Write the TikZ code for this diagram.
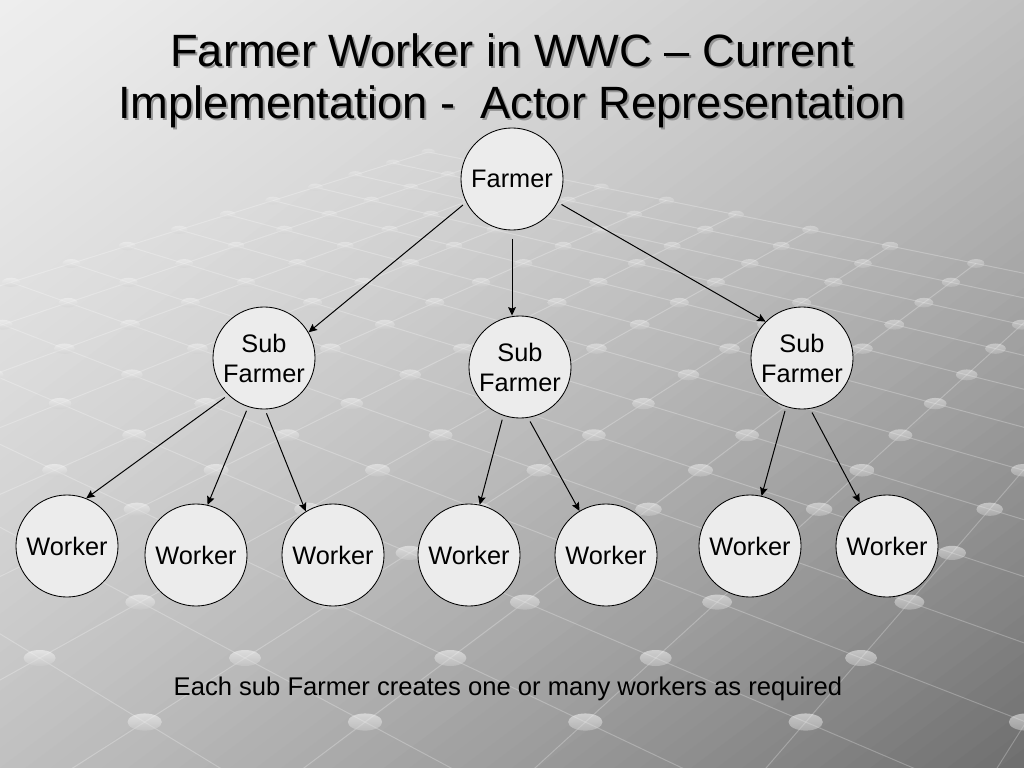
\documentclass[tikz,border=0pt]{standalone}
\usepackage{fontspec}
\setmainfont{Liberation Sans}
\usetikzlibrary{arrows.meta}
\definecolor{actorfill}{RGB}{236,236,236}
\definecolor{titleshade}{RGB}{150,150,150}

\begin{document}
\begin{tikzpicture}[
  x=0.025cm, y=-0.025cm,
  actor/.style={circle, draw=black, line width=0.6pt, fill=actorfill,
    minimum size=2.55cm, inner sep=0pt, align=center,
    font=\fontsize{18}{21.3}\selectfont},
  link/.style={-{Stealth[length=6pt, width=5.5pt, inset=1pt]}, line width=0.7pt, shorten <=3pt},
  gridline/.style={white, opacity=0.25, line width=0.7pt},
  titletext/.style={anchor=base, font=\fontsize{32.2}{38}\selectfont},
  declare function={
    gs(\a,\b)=1+0.068*(\a+\b);
    gx(\a,\b)=(-95.2*\a+110.16*\b+245)/gs(\a,\b);
    gy(\a,\b)=(-14.96*(\a+\b)+658)/gs(\a,\b);
    bgval(\t)=(238-56*\t-72*\t*\t)/255;
  },
]
  \useasboundingbox (0,0) rectangle (1024,768);

  \begin{scope}
    \clip (0,0) rectangle (1024,768);

    % Background (diagonal gradient, light top left to dark bottom right)
    \foreach \i in {0,...,79} {
      \pgfmathsetmacro{\ta}{\i/80}
      \pgfmathsetmacro{\tb}{(\i+1.6)/80}
      \pgfmathsetmacro{\v}{bgval((\i+0.5)/80)}
      \definecolor{bgstrip}{gray}{\v}
      \fill[bgstrip] ({1024*\ta-560},{768*\ta+420}) -- ({1024*\ta+560},{768*\ta-420})
        -- ({1024*\tb+560},{768*\tb-420}) -- ({1024*\tb-560},{768*\tb+420}) -- cycle;
    }

    % Floor grid (perspective)
    \foreach \b in {-4,...,13} {
      \draw[gridline] ({gx(-6,\b)},{gy(-6,\b)}) -- ({gx(7,\b)},{gy(7,\b)});
    }
    \foreach \a in {-6,...,7} {
      \draw[gridline] ({gx(\a,-4)},{gy(\a,-4)}) -- ({gx(\a,13)},{gy(\a,13)});
    }
    \foreach \a in {-6,...,7} {
      \foreach \b in {-4,...,13} {
        \pgfmathsetmacro{\s}{gs(\a,\b)}
        \pgfmathsetmacro{\op}{max(0.2,0.7-0.2*\s)}
        \shade[top color=white, bottom color=black!20, opacity=\op]
          ({gx(\a,\b)},{gy(\a,\b)}) ellipse [x radius=16/\s, y radius=8/\s];
      }
    }
  \end{scope}

  % Title
  \node[titletext, titleshade] at (514,69) {Farmer Worker in WWC – Current};
  \node[titletext, titleshade] at (514,121) {Implementation - \ Actor Representation};
  \node[titletext] (title1) at (512,67) {Farmer Worker in WWC – Current};
  \node[titletext] (title2) at (512,119) {Implementation - \ Actor Representation};

  % Actors
  \node[actor] (farmer) at (512,179) {Farmer};
  \node[actor] (subleft) at (264,358) {Sub\\Farmer};
  \node[actor] (submid) at (520,367) {Sub\\Farmer};
  \node[actor] (subright) at (802,358) {Sub\\Farmer};

  \foreach \n/\x/\y in {w1/67/546, w2/196/555, w3/333/555, w4/469/555,
                        w5/606/555, w6/750/546, w7/887/546} {
    \node[actor] (\n) at (\x,\y) {Worker};
  }

  % Connectors
  \draw[link] (farmer.207) -- (subleft.30);
  \draw[link, shorten <=6pt] (farmer.south) -- (farmer.south |- submid.north);
  \draw[link] (farmer.333) -- (subright.135);
  \foreach \from/\to in {subleft.226/w1.68, subleft.252/w2.77, subleft.271/w3.122,
                         submid.251/w4.78, submid.279/w5.121,
                         subright.252/w6.77, subright.279/w7.122} {
    \draw[link] (\from) -- (\to);
  }

  % Caption
  \node[anchor=base, font=\fontsize{18.2}{21.3}\selectfont] (caption) at (508,695)
    {Each sub Farmer creates one or many workers as required};

\end{tikzpicture}
\end{document}
